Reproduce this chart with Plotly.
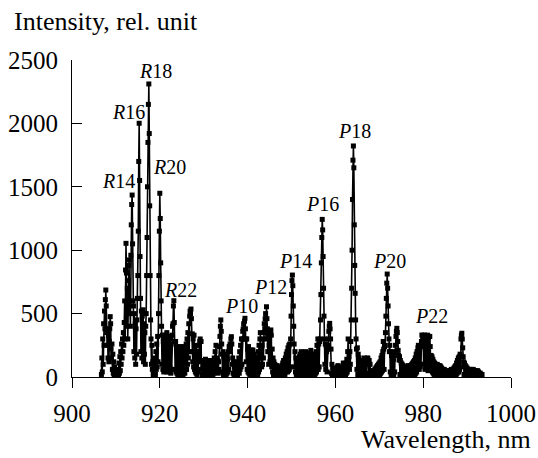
import numpy as np
import plotly.graph_objects as go

seg_a_start = 906.7
seg_a = [20, 150, 40,
         300, 100, 420, 250, 520, 380, 610, 686, 560, 350,
         250, 380, 150, 330, 120, 280, 380, 476, 420, 220,
         150, 260, 60, 180, 30, 120, 10, 80, 0, 40,
         0, 20, 0, 40, 10, 60, 20, 110, 30, 160,
         50, 200, 100, 260, 150, 300, 200, 350, 250, 430,
         600, 300, 844, 1054, 820, 400, 700, 300, 760, 880,
         923, 500, 600, 400, 960, 1200, 1360, 1435, 1050, 600,
         560, 200, 500, 150, 420, 100, 380, 180, 450, 620,
         800, 1150, 1700, 2001, 1550, 950, 620, 200, 520, 150,
         480, 200, 530, 120, 420, 180, 350, 100, 400, 500,
         800, 1100, 1500, 1850, 2150, 2311, 1920, 1350, 800, 450,
         300, 100, 250, 60, 120, 20, 0, 30, 0, 150,
         20, 200, 60, 260, 80, 320, 120, 500, 800, 1150]

seg_b_start = 920.0
seg_b = [1449, 1250, 900, 600, 400, 100, 330, 60, 280, 40,
         300, 60, 330, 80, 250, 40, 350, 100, 280, 60,
         200, 40, 320, 80, 300, 30, 260, 60, 330, 400,
         420, 560, 602, 430, 280, 60, 280, 40, 240, 30,
         200, 20, 230, 40, 180, 20, 240, 40, 200, 20,
         220, 30, 190, 20, 240, 40, 200, 30, 230, 60,
         260, 60, 300, 100, 350, 150, 420, 200, 480, 520,
         500, 536, 460, 200, 340, 120, 300, 80, 330, 60,
         220, 40, 250, 30, 200, 20, 170, 40, 150, 200,
         250, 280, 300, 120, 280, 60, 130, 20, 80, 10,
         120, 0, 90, 10, 140, 0, 100, 20, 130, 0,
         100, 10, 80, 20, 130, 10, 90, 20, 120, 30,
         80, 20, 120, 30, 150, 40, 200, 60, 250, 80,
         150, 40, 130, 30, 120, 60, 240, 320, 400, 450,
         360, 260, 180, 40, 200, 20, 160, 10, 140, 30,
         180, 20, 160, 30, 140, 40, 200, 60, 240, 200,
         260, 230, 300, 318, 260, 100, 150, 30, 120, 20,
         80, 10, 60, 0, 40, 10, 90, 20, 120, 40,
         150, 30, 200, 60, 250, 80, 300, 100, 300, 360,
         380, 420, 300, 440, 463, 380, 300, 120, 300, 60]

seg_c_start = 940.0
seg_c = [220, 40, 240, 30, 200, 20, 180, 40, 213, 30,
         200, 20, 213, 30, 180, 10, 150, 0, 120, 10,
         140, 10, 160, 20, 200, 40, 250, 60, 300, 350,
         150, 220, 80, 250, 100, 300, 150, 350, 420, 380,
         460, 500, 300, 554, 460, 380, 200, 340, 100, 250,
         300, 120, 340, 371, 330, 80, 220, 40, 150, 20,
         120, 10, 100, 0, 70, 10, 90, 0, 50, 10,
         80, 0, 60, 10, 40, 0, 70, 10, 90, 20,
         110, 20, 130, 30, 120, 20, 150, 40, 180, 50,
         200, 40, 230, 50, 250, 60, 260, 80, 300, 480,
         650, 760, 804, 720, 560, 400, 260, 80, 200, 40,
         150, 20, 120, 10, 100, 20, 130, 30, 160, 40,
         180, 20, 200, 10, 170, 20, 190, 30, 160, 10,
         180, 20, 200, 30, 170, 10, 150, 20, 130, 10,
         170, 20, 190, 30, 210, 40, 180, 20, 150, 10,
         140, 10, 160, 20, 180, 30, 200, 40, 250, 60,
         300, 60, 260, 80, 280, 300, 450, 650, 900, 1100,
         1243, 1160, 950, 700, 480, 300, 100, 260, 60, 250,
         200, 40, 220, 250, 300, 360, 400, 423, 380, 300,
         220, 30, 100, 10, 70, 0, 50, 10, 40, 0]

seg_d_start = 960.0
seg_d = [40, 0, 60, 10, 80, 0, 90, 10, 60, 0,
         50, 0, 70, 10, 80, 0, 60, 10, 110, 0,
         70, 10, 90, 20, 110, 30, 140, 40, 200, 300,
         100, 160, 60, 200, 100, 280, 450, 700, 1000, 1400,
         1710, 1822, 1650, 1200, 880, 660, 450, 300, 220, 60,
         230, 20, 180, 10, 150, 0, 120, 10, 100, 0,
         90, 0, 110, 10, 130, 20, 150, 10, 120, 0,
         130, 20, 120, 150, 147, 120, 30, 130, 10, 100,
         50, 0, 40, 10, 30, 0, 40, 10, 50, 0,
         60, 10, 70, 0, 80, 10, 90, 20, 100, 20,
         110, 20, 120, 30, 150, 40, 170, 50, 200, 280,
         220, 60, 240, 250, 350, 480, 620, 740, 812, 700,
         560, 420, 300, 200, 250, 40, 200, 20, 170, 10,
         150, 10, 140, 20, 170, 40, 200, 250, 320, 360,
         384, 350, 280, 210, 170, 134, 160, 20, 130, 10,
         110, 0, 100, 10, 90, 0, 80, 10, 70, 0,
         70, 0, 80, 10, 60, 0, 90, 10, 70, 0,
         80, 10, 90, 10, 100, 20, 110, 20, 120, 30,
         130, 20, 150, 30, 180, 40, 200, 60, 230, 250,
         200, 60, 220, 80, 240, 100, 280, 331, 250, 300]

seg_e_start = 980.0
seg_e = [320, 100, 310, 331, 60, 320, 300, 80, 320, 290,
         330, 50, 310, 320, 80, 320, 240, 100, 170, 60,
         160, 40, 140, 30, 120, 20, 110, 30, 100, 20,
         90, 20, 100, 10, 90, 20, 80, 10, 90, 20,
         80, 10, 70, 10, 60, 0, 50, 10, 60, 0,
         50, 0, 40, 10, 50, 0, 40, 10, 30, 0,
         40, 0, 50, 10, 60, 0, 50, 10, 60, 10,
         70, 10, 80, 20, 90, 20, 110, 30, 130, 40,
         150, 40, 160, 60, 180, 80, 300, 330, 345, 300,
         230, 160, 120, 20, 110, 10, 90, 0, 80, 0,
         70, 0, 60, 0, 50, 0, 60, 0, 50, 0,
         60, 0, 50, 0, 60, 0, 50, 0, 40, 0,
         50, 0, 40, 0, 50, 0, 40, 0, 30, 0,
         30, 0, 20, 0, 20]

sample_step = 0.1

# ---- line identifications ----
line_names = ["R14", "R16", "R18", "R20", "R22",
              "P10", "P12", "P14", "P16", "P18", "P20", "P22"]
line_wl = [913.7, 915.3, 917.5, 920.0, 923.2,
           939.4, 944.3, 950.2, 957.0, 964.1, 971.8, 980.3]

x_ticks = [900, 920, 940, 960, 980, 1000]
y_ticks = [0, 500, 1000, 1500, 2000, 2500]

# ---- build arrays ----
wl_parts, int_parts = [], []
for start, vals in [(seg_a_start, seg_a), (seg_b_start, seg_b), (seg_c_start, seg_c),
                    (seg_d_start, seg_d), (seg_e_start, seg_e)]:
    wl_parts.append(np.round(start + sample_step * np.arange(len(vals)), 2))
    int_parts.append(np.array(vals, dtype=float))
wl = np.concatenate(wl_parts)
inten = np.concatenate(int_parts)

FONT = "Liberation Serif"

fig = go.Figure()
fig.add_trace(go.Scatter(
    x=wl, y=inten, mode="lines+markers",
    line=dict(color="black", width=1.6),
    marker=dict(symbol="square", size=5, color="black", line=dict(width=0)),
    hoverinfo="skip", showlegend=False))

# label offsets (px) relative to the peak top
offsets = {"R14": (-14, -14), "R16": (-11, -11), "R18": (7, -13), "R20": (10, -26),
           "R22": (7, -11), "P10": (-3, -12), "P12": (4, -20), "P14": (3, -14),
           "P16": (0, -15), "P18": (1, -15), "P20": (2, -13), "P22": (7, -19)}
annotations = []
for name, lam in zip(line_names, line_wl):
    win = np.abs(wl - lam) < 0.05
    peak = inten[win].max()
    dx, dy = offsets[name]
    annotations.append(dict(
        x=lam, y=peak, xref="x", yref="y", showarrow=False,
        text="<i>%s</i>%s" % (name[0], name[1:]),
        xanchor="center", yanchor="middle", xshift=dx, yshift=-dy,
        font=dict(family=FONT, size=20, color="black")))

annotations.append(dict(
    x=-0.137, y=1.12, xref="paper", yref="paper", showarrow=False,
    text="Intensity, rel. unit", xanchor="left", yanchor="middle",
    font=dict(family=FONT, size=26, color="black")))
annotations.append(dict(
    x=1.05, y=-0.196, xref="paper", yref="paper", showarrow=False,
    text="Wavelength, nm", xanchor="right", yanchor="middle",
    font=dict(family=FONT, size=26, color="black")))

fig.update_layout(
    width=538, height=458,
    margin=dict(l=72, r=27, t=60, b=81),
    paper_bgcolor="white", plot_bgcolor="white",
    showlegend=False, annotations=annotations,
    xaxis=dict(range=[900, 1000], tickvals=x_ticks, ticks="outside", ticklen=10,
               tickwidth=1.2, tickcolor="black", showline=True, linecolor="black",
               linewidth=1.2, showgrid=False, zeroline=False, automargin=False,
               ticklabelstandoff=4,
               tickfont=dict(family=FONT, size=25, color="black")),
    yaxis=dict(range=[0, 2500], tickvals=y_ticks, ticks="inside", ticklen=10,
               tickwidth=1.2, tickcolor="black", showline=True, linecolor="black",
               linewidth=1.2, showgrid=False, zeroline=False, ticklabelstandoff=8,
               automargin=False,
               tickfont=dict(family=FONT, size=25, color="black")),
)

fig.write_html("out.html", config={"displayModeBar": False},
               post_script="document.body.style.margin='0px';")
